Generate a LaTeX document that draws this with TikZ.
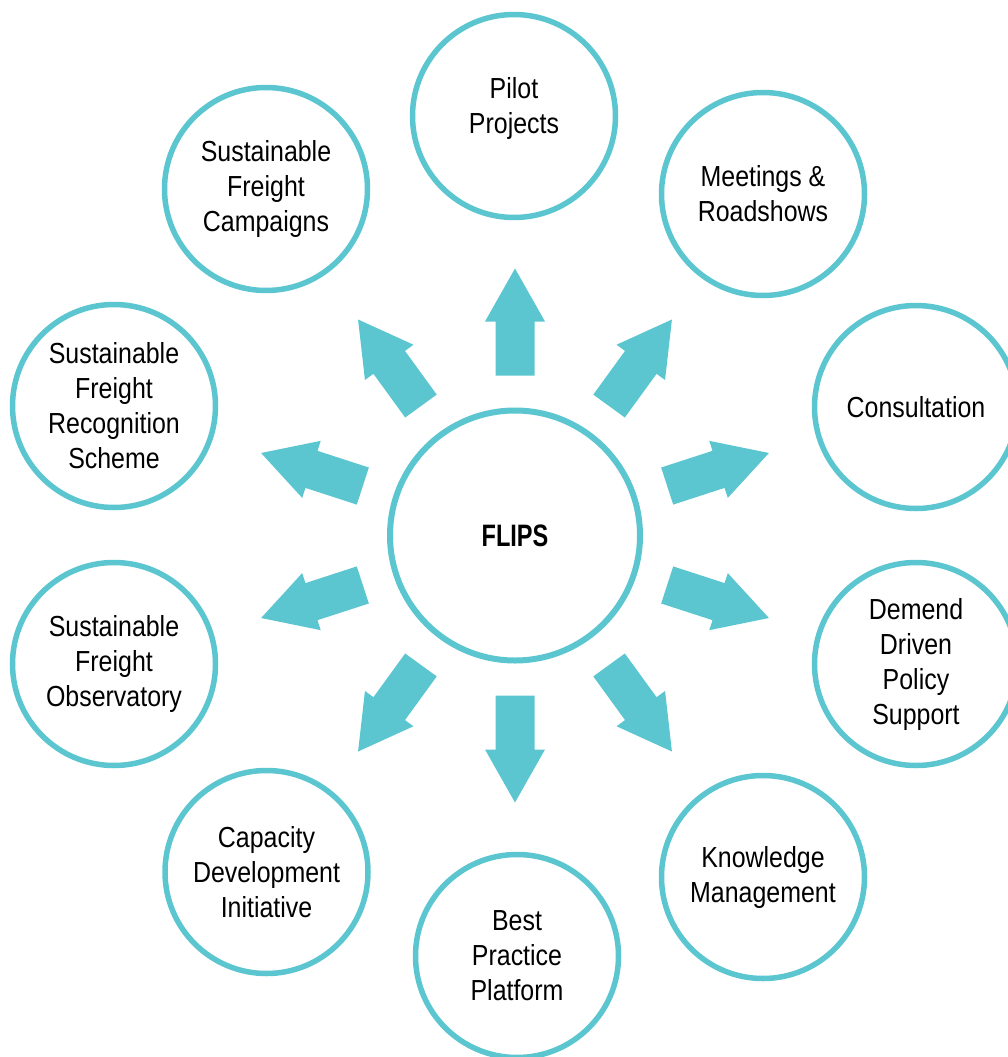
\documentclass[tikz,border=0pt]{standalone}
\usepackage{fontspec}
\setmainfont[FakeStretch=0.86]{Liberation Sans}
\newfontfamily\flipsfont[FakeStretch=0.76]{Liberation Sans Bold}
\definecolor{teal1}{HTML}{5BC6D0}
\begin{document}
\begin{tikzpicture}[x=1pt,y=1pt,
  outer/.style={circle,draw=teal1,line width=5.5pt,fill=white,minimum size=203pt,
    inner sep=0pt,align=center,font=\fontsize{29}{35}\selectfont,text=black},
  hub/.style={circle,draw=teal1,line width=6pt,fill=white,minimum size=250pt,
    inner sep=0pt,align=center,text=black},
  blockarrow/.style={fill=teal1,draw=none}]
\useasboundingbox (0,0) rectangle (1008,-1057);
\node[hub] (c) at (515,-535.5) {\flipsfont\fontsize{31}{35}\selectfont FLIPS};
\node[outer,label={[align=center,font=\fontsize{29}{35}\selectfont,text=black,yshift=7pt]center:Pilot\\Projects}] (pilot) at (514,-116) {};
\node[outer] (meet) at (763,-194) {Meetings \&\\Roadshows};
\node[outer] (cons) at (916,-407) {Consultation};
\node[outer] (dem) at (916,-664) {Demend\\Driven\\Policy\\Support};
\node[outer] (know) at (763,-877) {Knowledge\\Management};
\node[outer] (best) at (517,-956) {Best\\Practice\\Platform};
\node[outer] (cap) at (266.5,-872) {Capacity\\Development\\Initiative};
\node[outer] (obs) at (114,-664) {Sustainable\\Freight\\Observatory};
\node[outer] (rec) at (114,-406) {Sustainable\\Freight\\Recognition\\Scheme};
\node[outer] (camp) at (266,-189) {Sustainable\\Freight\\Campaigns};
\foreach \ang in {90,54,18,-18,-54,-90,-126,-162,162,126}{
  \begin{scope}[shift={(c.center)},rotate=\ang]
    \fill[blockarrow] (160,-19.5) -- (214,-19.5) -- (214,-30) -- (267,0)
      -- (214,30) -- (214,19.5) -- (160,19.5) -- cycle;
  \end{scope}
}
\end{tikzpicture}
\end{document}
